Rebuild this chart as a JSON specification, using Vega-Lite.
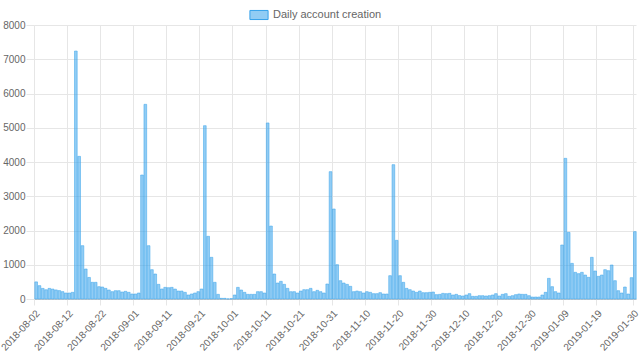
{
  "$schema": "https://vega.github.io/schema/vega-lite/v6.json",
  "width": 602,
  "height": 274,
  "autosize": "none",
  "padding": {"left": 34, "top": 25, "right": 4, "bottom": 62},
  "background": "white",
  "config": {
    "view": {"stroke": null},
    "font": "Liberation Sans",
    "axis": {"labelFont": "Liberation Sans", "labelColor": "#666666", "labelFontSize": 10, "gridColor": "#e6e6e6", "tickColor": "#e6e6e6", "domainColor": "#c8c8c8", "title": null}
  },
  "data": {"values": [
    {"date":"2018-08-02","count":500},{"date":"2018-08-03","count":390},{"date":"2018-08-04","count":310},{"date":"2018-08-05","count":270},{"date":"2018-08-06","count":310},{"date":"2018-08-07","count":290},{"date":"2018-08-08","count":265},{"date":"2018-08-09","count":245},{"date":"2018-08-10","count":215},{"date":"2018-08-11","count":175},
    {"date":"2018-08-12","count":175},{"date":"2018-08-13","count":195},{"date":"2018-08-14","count":7240},{"date":"2018-08-15","count":4165},{"date":"2018-08-16","count":1557},{"date":"2018-08-17","count":876},{"date":"2018-08-18","count":630},{"date":"2018-08-19","count":487},{"date":"2018-08-20","count":487},{"date":"2018-08-21","count":360},
    {"date":"2018-08-22","count":350},{"date":"2018-08-23","count":311},{"date":"2018-08-24","count":263},{"date":"2018-08-25","count":214},{"date":"2018-08-26","count":243},{"date":"2018-08-27","count":243},{"date":"2018-08-28","count":204},{"date":"2018-08-29","count":224},{"date":"2018-08-30","count":195},{"date":"2018-08-31","count":146},
    {"date":"2018-09-01","count":146},{"date":"2018-09-02","count":175},{"date":"2018-09-03","count":3620},{"date":"2018-09-04","count":5684},{"date":"2018-09-05","count":1557},{"date":"2018-09-06","count":856},{"date":"2018-09-07","count":730},{"date":"2018-09-08","count":428},{"date":"2018-09-09","count":292},{"date":"2018-09-10","count":340},
    {"date":"2018-09-11","count":330},{"date":"2018-09-12","count":340},{"date":"2018-09-13","count":290},{"date":"2018-09-14","count":233},{"date":"2018-09-15","count":233},{"date":"2018-09-16","count":195},{"date":"2018-09-17","count":117},{"date":"2018-09-18","count":146},{"date":"2018-09-19","count":175},{"date":"2018-09-20","count":214},
    {"date":"2018-09-21","count":292},{"date":"2018-09-22","count":5060},{"date":"2018-09-23","count":1830},{"date":"2018-09-24","count":1217},{"date":"2018-09-25","count":487},{"date":"2018-09-26","count":136},{"date":"2018-09-27","count":20},{"date":"2018-09-28","count":20},{"date":"2018-09-29","count":5},{"date":"2018-09-30","count":10},
    {"date":"2018-10-01","count":117},{"date":"2018-10-02","count":340},{"date":"2018-10-03","count":263},{"date":"2018-10-04","count":195},{"date":"2018-10-05","count":136},{"date":"2018-10-06","count":136},{"date":"2018-10-07","count":136},{"date":"2018-10-08","count":214},{"date":"2018-10-09","count":214},{"date":"2018-10-10","count":175},
    {"date":"2018-10-11","count":5140},{"date":"2018-10-12","count":2130},{"date":"2018-10-13","count":730},{"date":"2018-10-14","count":467},{"date":"2018-10-15","count":516},{"date":"2018-10-16","count":428},{"date":"2018-10-17","count":311},{"date":"2018-10-18","count":214},{"date":"2018-10-19","count":214},{"date":"2018-10-20","count":175},
    {"date":"2018-10-21","count":233},{"date":"2018-10-22","count":272},{"date":"2018-10-23","count":272},{"date":"2018-10-24","count":311},{"date":"2018-10-25","count":214},{"date":"2018-10-26","count":253},{"date":"2018-10-27","count":214},{"date":"2018-10-28","count":175},{"date":"2018-10-29","count":438},{"date":"2018-10-30","count":3718},
    {"date":"2018-10-31","count":2628},{"date":"2018-11-01","count":1002},{"date":"2018-11-02","count":535},{"date":"2018-11-03","count":467},{"date":"2018-11-04","count":428},{"date":"2018-11-05","count":370},{"date":"2018-11-06","count":214},{"date":"2018-11-07","count":233},{"date":"2018-11-08","count":214},{"date":"2018-11-09","count":175},
    {"date":"2018-11-10","count":214},{"date":"2018-11-11","count":195},{"date":"2018-11-12","count":156},{"date":"2018-11-13","count":156},{"date":"2018-11-14","count":185},{"date":"2018-11-15","count":146},{"date":"2018-11-16","count":146},{"date":"2018-11-17","count":681},{"date":"2018-11-18","count":3922},{"date":"2018-11-19","count":1713},
    {"date":"2018-11-20","count":681},{"date":"2018-11-21","count":487},{"date":"2018-11-22","count":311},{"date":"2018-11-23","count":272},{"date":"2018-11-24","count":233},{"date":"2018-11-25","count":195},{"date":"2018-11-26","count":233},{"date":"2018-11-27","count":185},{"date":"2018-11-28","count":185},{"date":"2018-11-29","count":195},
    {"date":"2018-11-30","count":204},{"date":"2018-12-01","count":127},{"date":"2018-12-02","count":136},{"date":"2018-12-03","count":165},{"date":"2018-12-04","count":156},{"date":"2018-12-05","count":165},{"date":"2018-12-06","count":117},{"date":"2018-12-07","count":136},{"date":"2018-12-08","count":100},{"date":"2018-12-09","count":88},
    {"date":"2018-12-10","count":117},{"date":"2018-12-11","count":156},{"date":"2018-12-12","count":78},{"date":"2018-12-13","count":78},{"date":"2018-12-14","count":97},{"date":"2018-12-15","count":97},{"date":"2018-12-16","count":88},{"date":"2018-12-17","count":97},{"date":"2018-12-18","count":117},{"date":"2018-12-19","count":156},
    {"date":"2018-12-20","count":88},{"date":"2018-12-21","count":136},{"date":"2018-12-22","count":156},{"date":"2018-12-23","count":78},{"date":"2018-12-24","count":97},{"date":"2018-12-25","count":127},{"date":"2018-12-26","count":146},{"date":"2018-12-27","count":136},{"date":"2018-12-28","count":136},{"date":"2018-12-29","count":97},
    {"date":"2018-12-30","count":58},{"date":"2018-12-31","count":58},{"date":"2019-01-01","count":58},{"date":"2019-01-02","count":117},{"date":"2019-01-03","count":195},{"date":"2019-01-04","count":603},{"date":"2019-01-05","count":360},{"date":"2019-01-06","count":214},{"date":"2019-01-07","count":175},{"date":"2019-01-08","count":1577},
    {"date":"2019-01-09","count":4107},{"date":"2019-01-10","count":1946},{"date":"2019-01-11","count":1041},{"date":"2019-01-12","count":779},{"date":"2019-01-13","count":740},{"date":"2019-01-14","count":779},{"date":"2019-01-15","count":700},{"date":"2019-01-16","count":633},{"date":"2019-01-17","count":1217},{"date":"2019-01-18","count":818},
    {"date":"2019-01-19","count":662},{"date":"2019-01-20","count":700},{"date":"2019-01-21","count":856},{"date":"2019-01-22","count":827},{"date":"2019-01-23","count":993},{"date":"2019-01-24","count":535},{"date":"2019-01-25","count":243},{"date":"2019-01-26","count":175},{"date":"2019-01-27","count":350},{"date":"2019-01-28","count":146},
    {"date":"2019-01-29","count":623},{"date":"2019-01-30","count":1966}
  ]},
  "transform": [{"calculate": "'Daily account creation'", "as": "series"}],
  "mark": {"type": "bar", "binSpacing": 0.6, "stroke": "#36a2eb", "strokeWidth": 0.5},
  "encoding": {
    "x": {
      "field": "date", "type": "temporal", "timeUnit": "utcyearmonthdate",
      "scale": {"type": "utc", "nice": false, "domain": [{"year": 2018, "month": 8, "date": 2, "utc": true}, {"year": 2019, "month": 1, "date": 31, "utc": true}]},
      "axis": {
        "values": [
          {"year": 2018, "month": 8, "date": 2, "utc": true}, {"year": 2018, "month": 8, "date": 12, "utc": true}, {"year": 2018, "month": 8, "date": 22, "utc": true},
          {"year": 2018, "month": 9, "date": 1, "utc": true}, {"year": 2018, "month": 9, "date": 11, "utc": true}, {"year": 2018, "month": 9, "date": 21, "utc": true},
          {"year": 2018, "month": 10, "date": 1, "utc": true}, {"year": 2018, "month": 10, "date": 11, "utc": true}, {"year": 2018, "month": 10, "date": 21, "utc": true},
          {"year": 2018, "month": 10, "date": 31, "utc": true}, {"year": 2018, "month": 11, "date": 10, "utc": true}, {"year": 2018, "month": 11, "date": 20, "utc": true},
          {"year": 2018, "month": 11, "date": 30, "utc": true}, {"year": 2018, "month": 12, "date": 10, "utc": true}, {"year": 2018, "month": 12, "date": 20, "utc": true},
          {"year": 2018, "month": 12, "date": 30, "utc": true}, {"year": 2019, "month": 1, "date": 9, "utc": true}, {"year": 2019, "month": 1, "date": 19, "utc": true},
          {"year": 2019, "month": 1, "date": 30, "utc": true}
        ],
        "labelExpr": "utcFormat(datum.value, '%Y-%m-%d')", "labelAngle": -47, "labelAlign": "right", "labelBaseline": "top",
        "grid": true, "tickSize": 6, "labelPadding": 3, "labelOverlap": false, "labelFlush": false
      }
    },
    "y": {
      "field": "count", "type": "quantitative",
      "scale": {"domain": [0, 8000], "nice": false},
      "axis": {"values": [0, 1000, 2000, 3000, 4000, 5000, 6000, 7000, 8000], "format": "d", "tickSize": 8, "labelPadding": 1, "domain": true, "domainColor": "#e6e6e6"}
    },
    "color": {
      "field": "series", "type": "nominal",
      "scale": {"range": ["rgba(54,162,235,0.55)"]},
      "legend": {
        "title": null, "orient": "none", "legendX": 215, "legendY": -20, "padding": 0,
        "symbolType": "M-1,-0.5H1V0.5H-1Z", "symbolSize": 330, "symbolStrokeColor": "#36a2eb", "symbolStrokeWidth": 1,
        "labelFont": "Liberation Sans", "labelFontSize": 11, "labelColor": "#666666", "labelOffset": 4,
        "encode": {"symbols": {"update": {"fill": {"value": "#d7ebfb"}, "stroke": {"value": "#36a2eb"}, "strokeWidth": {"value": 1}}}}
      }
    }
  }
}
